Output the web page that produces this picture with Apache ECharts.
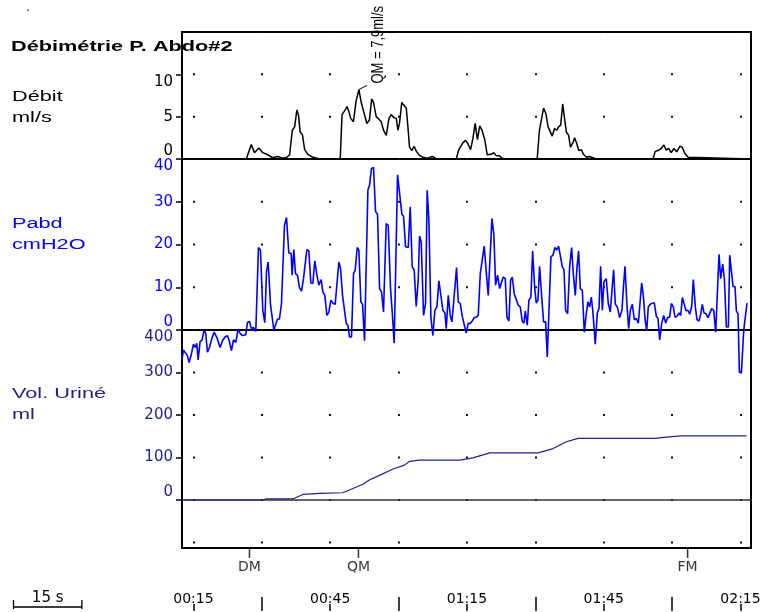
<!DOCTYPE html>
<html>
<head>
<meta charset="UTF-8">
<title>Débimétrie P. Abdo#2</title>
<script src="https://cdn.jsdelivr.net/npm/echarts/dist/echarts.min.js"></script>
<style>html,body{margin:0;padding:0;background:#fff;}</style>
</head>
<body>
<div id="chart" style="width:765px;height:612px;"></div>
<script type="text/javascript">
// temps en secondes
var flowTime = [12.5, 26.6, 27.7, 28.4, 29.35, 30.2, 31.3, 32.4, 33.5, 34.6, 35.5, 36.1, 36.7, 37.2, 37.7, 38.1, 38.4, 38.9, 39.4, 40.1, 41.2, 42.7,
	47.2, 47.6, 48.3, 48.7, 49.1, 49.5, 50.1, 50.7, 51.3, 51.8, 52.3, 53.05, 53.6, 54.1, 54.5, 55.1, 55.7, 56.2, 56.7, 57.3, 57.9, 58.4, 58.9, 59.5, 59.85, 60.2, 60.7, 61.1, 61.7, 62.05, 62.4, 62.9, 63.4, 63.9, 64.5, 65.3, 66.4, 67.4, 68.3,
	72.65, 73.2, 74.1, 74.7, 75.2, 75.8, 76.3, 76.8, 77.3, 77.8, 78.3, 78.9, 79.45, 80.3, 80.9, 81.4, 82.2, 82.7, 83.6,
	90.4, 90.9, 91.3, 91.8, 92.3, 92.8, 93.3, 93.7, 94.2, 94.7, 95.1, 95.55, 96.0, 96.4, 96.8, 97.3, 97.7, 98.3, 98.6, 99.1, 99.5, 100.1, 100.5, 101.2, 101.9, 102.6, 103.4,
	115.8, 116.3, 116.9, 117.6, 118.2, 118.7, 119.25, 119.8, 120.4, 121.0, 121.7, 122.2, 122.8, 123.5, 123.9, 137.2];
var flowValue = [0, 0, 1.7, 0.75, 1.3, 0.75, 0.5, 0.15, 0.3, 0.1, 0.2, 0.5, 3.4, 3.8, 5.8, 5.0, 3.2, 2.9, 1.1, 0.55, 0.2, 0,
	0, 5.25, 5.8, 6.2, 5.6, 4.8, 4.4, 6.9, 8.2, 6.7, 5.7, 4.2, 4.6, 7.1, 6.7, 5.0, 4.7, 4.4, 3.4, 2.8, 4.8, 5.25, 4.9, 4.8, 3.4, 4.2, 6.7, 6.4, 6.0, 3.8, 1.4, 1.0, 1.5, 0.9, 0.5, 0.2, 0.1, 0.3, 0,
	0, 1.1, 1.9, 2.2, 1.8, 1.1, 2.4, 4.2, 2.3, 3.9, 3.4, 2.3, 0.5, 0.55, 0.75, 0.4, 0.35, 0.1, 0,
	0, 3.4, 3.4, 6.0, 5.4, 3.8, 3.2, 2.7, 3.6, 3.4, 3.8, 4.0, 6.5, 4.8, 3.2, 2.8, 1.4, 2.0, 2.5, 1.8, 1.0, 1.1, 0.6, 0.2, 0.3, 0.15, 0,
	0, 0.9, 1.0, 1.25, 1.65, 1.05, 1.25, 0.75, 1.25, 0.85, 1.5, 1.4, 0.65, 0.2, 0, 0];

var pabdTime = [12.5, 12.8, 13.11, 13.69, 14.06, 14.57, 15.01, 15.45, 15.74, 16.04, 16.47, 16.91, 17.35, 17.72, 18.08, 18.52, 18.96, 19.55, 20.13, 20.86, 21.37, 21.89, 22.47, 22.84, 23.35, 23.79, 24.3, 24.81, 25.25, 25.76, 26.13, 26.5, 26.86, 27.3, 27.74, 28.18, 28.69, 28.95,
	29.27, 29.71, 30.22, 30.66, 31.03, 31.4, 31.91, 32.27, 32.64, 33.0, 33.44, 33.88, 34.32, 34.69, 34.98, 35.42, 35.93, 36.44, 36.66, 37.03, 37.39, 37.83, 38.27, 38.71, 39.15, 39.51, 39.88, 40.32, 40.76, 41.2, 41.63, 42.07, 42.51, 43.03, 43.39, 43.83, 44.27, 44.71, 45.15, 45.59, 46.1, 46.46, 46.9, 47.27, 47.71, 48.07, 48.51, 48.88, 49.24, 49.68,
	50.12, 50.49, 50.93, 51.29, 51.73, 52.1, 52.54, 52.9, 53.27, 53.63, 54.07, 54.51, 54.95, 55.39, 55.83, 56.26, 56.7, 57.29, 57.73, 58.24, 58.61, 59.04, 59.78, 60.21, 60.73, 61.09, 61.53, 62.12, 62.56, 62.99, 63.43, 63.87, 64.31, 64.6, 64.97, 65.48, 65.92, 66.28, 66.65, 67.09, 67.53, 67.97, 68.41, 68.85, 69.28, 69.72, 70.16, 70.46, 70.9, 71.34, 71.7, 72.07, 72.43, 72.72, 73.09, 73.53,
	73.97, 74.4, 74.84, 75.28, 75.72, 76.16, 76.6, 77.04, 77.48, 77.92, 78.35, 78.79, 79.23, 79.67, 80.04, 80.48, 80.91, 81.28, 81.72, 82.16, 82.52, 82.96, 83.4, 83.77, 84.21, 84.57, 84.94, 85.38, 85.81, 86.25, 86.69, 87.13, 87.5, 87.79, 88.23, 88.59, 89.03, 89.4, 89.84, 90.2, 90.57, 90.94, 91.37, 91.81, 92.25, 92.62, 93.0,
	93.42, 93.86, 94.3, 94.67, 95.1, 95.47, 95.91, 96.28, 96.64, 97.08, 97.52, 97.96, 98.32, 98.76, 99.13, 99.49, 99.86, 100.3, 100.74, 101.18, 101.54, 101.91, 102.27, 102.64, 103.15, 103.59, 103.96, 104.32, 104.69, 105.05, 105.56, 106.0, 106.44, 106.81, 107.17, 107.54, 107.98, 108.49, 109.0, 109.3, 109.66, 110.1, 110.47, 110.83, 111.27, 111.71, 112.15, 112.59, 112.95,
	113.32, 113.68, 114.05, 114.42, 114.78, 115.22, 115.66, 116.1, 116.54, 116.9, 117.27, 117.71, 118.15, 118.58, 119.02, 119.46, 119.83, 120.27, 120.63, 121.07, 121.51, 121.88, 122.24, 122.61, 123.05, 123.49, 123.85, 124.29, 124.65, 125.09, 125.46, 125.9, 126.27, 126.63, 127.0, 127.44, 127.87, 128.24, 128.68, 129.12, 129.56, 129.92,
	130.29, 130.65, 131.09, 131.46, 131.9, 132.34, 132.63, 132.92, 133.36, 133.8, 134.09, 134.46, 134.75, 135.2, 135.71, 136.43];
var pabdValue = [-7.0, -4.7, -4.5, -6.0, -7.6, -5.6, -3.3, -4.1, -3.1, -7.0, -2.7, -2.3, 0, -0.9, -5.2, -4.1, -2.3, -0.5, -1.7, -4.1, -2.5, -1.7, -1.3, -2.5, -4.8, -2.3, -2.9, 0.2, -0.8, -1.3, -0.9, -1.1, 1.8, 2.0, 0.2, 0.6, -0.3, -0.2,
	19.3, 18.7, 4.6, 1.7, 13.6, 15.9, 6.0, 5.9, 0, -0.2, 2.5, 2.6, 6.2, 6.5, 24.5, 26.3, 18.0, 17.9, 12.8, 18.8, 13.2, 12.8, 9.9, 9.1, 12.0, 12.4, 18.8, 18.5, 11.0, 10.9, 16.2, 13.0, 10.5, 11.8, 8.9, 8.1, 3.4, 4.2, 7.0, 6.3, 6.0, 6.3, 15.9, 14.4, 8.1, 7.9, 1.6, 1.1, -1.6, -1.6,
	13.2, 14.0, 19.3, 18.7, 6.6, 6.0, -2.5, -2.5, 32.7, 33.9, 37.8, 38.0, 27.7, 27.1, 9.7, 8.9, 4.2, 24.9, 24.5, 9.7, 4.2, -3.1, 36.3, 36.5, 27.1, 26.6, 19.5, 19.3, 28.8, 14.8, 14.0, 5.5, 11.6, 22.0, 20.6, 3.4, 6.2, 32.7, 25.7, 3.0, -1.3, 4.6, 5.4, 11.5, 11.6, 4.6, 4.0, 0.3, 8.1, 3.4, 1.9, 6.3, 6.6, 14.6, 6.6, 6.2,
	3.2, 3.0, -0.7, 1.6, 1.5, 2.1, 2.9, 3.0, 3.4, 13.2, 13.6, 19.6, 13.6, 8.1, 8.5, 26.1, 22.2, 10.5, 12.8, 9.7, 9.7, 12.4, 12.0, 3.0, 2.1, 11.6, 12.4, 8.5, 8.1, 5.8, 5.4, 2.1, 1.6, 4.5, 1.1, 7.0, 7.7, 18.5, 10.1, 6.3, 7.0, 14.9, 8.1, 1.9, 1.9, -6.3, -6.3,
	17.1, 17.5, 19.3, 18.7, 19.6, 19.3, 14.8, 14.1, 4.6, 3.8, 14.8, 19.3, 13.2, 8.1, 14.6, 18.5, 9.7, 9.3, -0.5, 3.8, 6.6, 5.4, 7.7, 4.0, -3.3, 4.0, 5.0, 14.9, 4.6, 11.3, 12.0, 6.2, 4.2, 9.3, 14.1, 6.0, 5.4, 2.9, 4.6, 9.7, 14.9, 5.8, 0.3, 4.6, 6.0, 2.4, 2.7, 1.6, 1.6,
	11.0, 8.1, 2.7, -0.2, 5.4, 6.0, 6.3, 6.3, 3.2, 2.7, -2.3, 1.5, 3.4, 1.6, 2.9, 3.0, 6.2, 5.4, 3.0, 3.2, 4.0, 3.4, 7.6, 7.3, 4.5, 4.6, 3.7, 5.5, 11.8, 5.4, 2.4, 2.1, 3.7, 6.0, 4.0, 3.8, 2.9, 3.0, 5.0, 4.6, -0.5, -0.7,
	17.7, 12.0, 15.4, 12.0, 0.7, 0.7, 17.5, 17.7, 10.2, 10.1, 4.5, 3.7, -9.9, -9.9, 0, 6.3];

var volTime = [12.5, 30.2, 30.9, 36.8, 39.0, 42.7, 47.8, 50.0, 52.2, 53.6, 55.8, 58.8, 61.3, 62.4, 64.6, 73.4, 76.3, 80.0, 90.6, 93.9, 96.8, 99.4, 116.2, 118.7, 122.0, 136.3];
var volValue = [0, 0, 2.4, 2.4, 13, 15.7, 17, 27, 37, 47, 58, 73, 82, 91, 94, 94, 99, 111, 111, 121, 137, 145, 145, 148, 151, 151];

var flowTicks = [0, 5, 10];
var pabdTicks = [0, 10, 20, 30, 40];
var volTicks = [0, 100, 200, 300, 400];
var gridTicks = [15, 30, 45, 60, 75, 90, 105, 120, 135];
var timeLabelTicks = [15, 45, 75, 105, 135];
var timeMajorTicks = [30, 60, 90, 120];

var markerNames = ['DM', 'QM', 'FM'];
var markerTimes = [27.3, 51.2, 123.4];
var qmTime = 51.3, qmFlow = 8.2;

var X_MIN = 12.5, X_MAX = 137.3;
var LEFT = 182, RIGHT = 14;
var blue = '#0000ff', navy = '#1f1f8f';
var labelFont = 'DejaVu Sans';

function pairs(t, v) {
	return t.map(function(x, i) { return [x, v[i]]; });
}
function fmtTime(s) {
	var m = Math.floor(s / 60), r = s % 60;
	return (m < 10 ? '0' : '') + m + ':' + (r < 10 ? '0' : '') + r;
}

// axe des temps (pointillés de la grille = splitLine)
function mainX(idx, period, showLine) {
	return {
		type: 'value', gridIndex: idx, min: X_MIN, max: X_MAX,
		axisLabel: { show: false },
		axisTick: { show: false, customValues: gridTicks },
		axisLine: { show: showLine, onZero: true, lineStyle: { color: '#333', width: 1.5 } },
		splitLine: { show: true, lineStyle: { color: '#111', width: 2, type: [2, period - 2], dashOffset: 1 } }
	};
}
function mainY(idx, min, max, ticks, color) {
	return {
		type: 'value', gridIndex: idx, min: min, max: max,
		axisLine: { show: false },
		axisTick: { show: true, length: 6, customValues: ticks, lineStyle: { color: '#000', width: 1.5 } },
		axisLabel: {
			customValues: ticks, color: color, fontFamily: labelFont, fontSize: 15, margin: 9,
			verticalAlignMinLabel: 'bottom', verticalAlignMaxLabel: 'top'
		},
		splitLine: { show: false }
	};
}

var chart = echarts.init(document.getElementById('chart'));
var gridBox = { left: LEFT, right: RIGHT, show: true, borderColor: '#000', borderWidth: 2, outerBoundsMode: 'none' };

option = {
	animation: false,
	backgroundColor: '#fff',
	grid: [
		Object.assign({ top: 32, height: 127 }, gridBox),
		Object.assign({ top: 159, height: 171 }, gridBox),
		Object.assign({ top: 330, height: 218 }, gridBox),
		{ left: LEFT, right: RIGHT, top: 548, height: 10, show: false, outerBoundsMode: 'none' },
		{ left: LEFT, right: RIGHT, top: 592, height: 19, show: false, outerBoundsMode: 'none' }
	],
	xAxis: [
		mainX(0, 127 / 3, false),
		mainX(1, 171 / 4, false),
		mainX(2, 218 / 513 * 100, true),
		{ type: 'value', gridIndex: 3, min: X_MIN, max: X_MAX, show: false },
		{
			type: 'value', gridIndex: 4, min: X_MIN, max: X_MAX, position: 'bottom',
			axisLine: { show: false },
			axisTick: { inside: true, length: 7, customValues: timeLabelTicks, lineStyle: { color: '#000', width: 1.5 } },
			axisLabel: { inside: true, customValues: timeLabelTicks, formatter: fmtTime, margin: 5, color: '#000', fontFamily: labelFont, fontSize: 14 },
			splitLine: { show: false }
		},
		{
			type: 'value', gridIndex: 4, min: X_MIN, max: X_MAX, position: 'bottom',
			axisLine: { show: false },
			axisTick: { inside: true, length: 14, customValues: timeMajorTicks, lineStyle: { color: '#000', width: 1.5 } },
			axisLabel: { show: false },
			splitLine: { show: false }
		}
	],
	yAxis: [
		mainY(0, 0, 15, flowTicks, '#000'),
		mainY(1, 0, 40, pabdTicks, blue),
		mainY(2, -113, 400, volTicks, navy),
		{ type: 'value', gridIndex: 3, min: 0, max: 1, show: false },
		{ type: 'value', gridIndex: 4, min: 0, max: 1, show: false }
	],
	series: [{
		name: 'Débit', type: 'line', xAxisIndex: 0, yAxisIndex: 0,
		data: pairs(flowTime, flowValue), showSymbol: false, silent: true,
		lineStyle: { color: '#000', width: 1.5 }
	}, {
		name: 'Pabd', type: 'line', xAxisIndex: 1, yAxisIndex: 1, clip: false,
		data: pairs(pabdTime, pabdValue), showSymbol: false, silent: true,
		lineStyle: { color: blue, width: 1.6 }
	}, {
		name: 'Vol. Uriné', type: 'line', xAxisIndex: 2, yAxisIndex: 2,
		data: pairs(volTime, volValue), showSymbol: false, silent: true,
		lineStyle: { color: navy, width: 1.2 }
	}, {
		type: 'scatter', xAxisIndex: 3, yAxisIndex: 3, silent: true,
		data: markerNames.map(function(n, i) { return { name: n, value: [markerTimes[i], 0.5] }; }),
		symbol: 'rect', symbolSize: [1.5, 10], itemStyle: { color: '#000' },
		label: { show: true, position: 'bottom', distance: 2, formatter: '{b}', color: '#000', fontFamily: labelFont, fontSize: 14 }
	}]
};
chart.setOption(option);

// textes libres : titre, noms des voies, annotation QM, échelle 15 s
var qm = chart.convertToPixel({ xAxisIndex: 0, yAxisIndex: 0 }, [qmTime, qmFlow]);
var x0 = chart.convertToPixel({ xAxisIndex: 4 }, X_MIN);
var pxPerSec = (chart.convertToPixel({ xAxisIndex: 4 }, X_MAX) - x0) / (X_MAX - X_MIN);
var barLen = 15 * pxPerSec, barX = 13.5, barY = 607;

function name(txt, x, y, color, bold) {
	return {
		type: 'text', x: x, y: y, scaleX: 1.55, silent: true,
		style: { text: txt, fill: color, font: (bold ? 'bold ' : '') + '14px "Liberation Sans", Arial', textVerticalAlign: 'middle' }
	};
}

chart.setOption({
	graphic: [
		{ type: 'text', x: 26, y: 0, style: { text: '.', fill: '#000', font: '14px "Liberation Sans"' } },
		name('Débimétrie P. Abdo#2', 11, 47, '#000', true),
		name('Débit', 12, 97, '#000'),
		name('ml/s', 12, 118, '#000'),
		name('Pabd', 12, 224, blue),
		name('cmH2O', 12, 245, blue),
		name('Vol. Uriné', 12, 394, navy),
		name('ml', 12, 415, navy),
		{ type: 'line', silent: true, shape: { x1: qm[0], y1: qm[1], x2: qm[0] + 8, y2: qm[1] - 4 }, style: { stroke: '#000', lineWidth: 1 } },
		{
			type: 'text', x: qm[0] + 19, y: qm[1] - 6, rotation: Math.PI / 2, scaleY: 1.3, silent: true,
			style: { text: 'QM = 7,9ml/s', fill: '#000', font: '13px "Liberation Sans", Arial', textAlign: 'left', textVerticalAlign: 'middle' }
		},
		{ type: 'polyline', silent: true, shape: { points: [[barX, barY - 7], [barX, barY + 2], [barX, barY], [barX + barLen, barY], [barX + barLen, barY - 7], [barX + barLen, barY + 2]] }, style: { stroke: '#000', lineWidth: 1.3, fill: null } },
		{ type: 'text', silent: true, x: barX + barLen / 2, y: barY - 1, style: { text: '15 s', fill: '#000', font: '15px "DejaVu Sans"', textAlign: 'center', textVerticalAlign: 'bottom' } }
	]
});
</script>
</body>
</html>
